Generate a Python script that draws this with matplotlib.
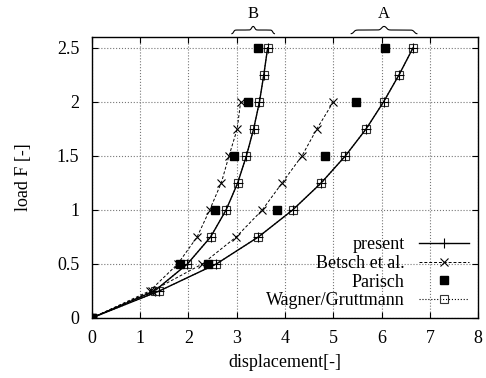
import numpy as np
import matplotlib.pyplot as plt

plt.rcParams['font.family'] = ['Liberation Serif', 'DejaVu Serif']
plt.rcParams['font.size'] = 13

# load levels
load = [0, 0.25, 0.5, 0.75, 1.0, 1.25, 1.5, 1.75, 2.0, 2.25, 2.5]
load_b = [0, 0.25, 0.5, 0.75, 1.0, 1.25, 1.5, 1.75, 2.0]
load_p = [0, 0.5, 1.0, 1.5, 2.0, 2.5]

# case B
present_B = [0, 1.30, 1.98, 2.46, 2.78, 3.02, 3.20, 3.35, 3.47, 3.56, 3.64]
betsch_B = [0, 1.20, 1.78, 2.18, 2.44, 2.68, 2.84, 3.01, 3.08]
parisch_B = [0, 1.82, 2.56, 2.95, 3.23, 3.44]
wagner_B = [0, 1.30, 1.98, 2.46, 2.78, 3.02, 3.20, 3.35, 3.47, 3.56, 3.64]

# case A
present_A = [0, 1.40, 2.58, 3.45, 4.16, 4.75, 5.25, 5.68, 6.04, 6.36, 6.65]
betsch_A = [0, 1.25, 2.29, 2.99, 3.53, 3.94, 4.35, 4.66, 5.00]
parisch_A = [0, 2.40, 3.83, 4.83, 5.47, 6.07]
wagner_A = [0, 1.40, 2.58, 3.45, 4.16, 4.75, 5.25, 5.68, 6.04, 6.36, 6.65]

fig = plt.figure(figsize=(4.86, 3.78), dpi=100)
ax = fig.add_axes([0.189, 0.159, 0.795, 0.743])

for wag, pre, bet, par in [(wagner_B, present_B, betsch_B, parisch_B),
                           (wagner_A, present_A, betsch_A, parisch_A)]:
    ax.plot(wag, load, ':', color='k', lw=0.8, marker='s', ms=6,
            mfc='none', mec='#333333', mew=0.8, label='Wagner/Gruttmann')
    ax.plot(pre, load, '-', color='k', lw=1.0, marker='+', ms=7,
            mew=0.8, label='present')
    ax.plot(bet, load_b, '--', color='k', lw=0.7, dashes=(3, 2), marker='x',
            ms=6, mew=0.8, label='Betsch et al.')
    ax.plot(par, load_p, 's', color='k', ms=5.5, label='Parisch')

ax.set_xlim(0, 8)
ax.set_ylim(0, 2.6)
ax.set_xticks(range(9))
ax.set_yticks([0, 0.5, 1, 1.5, 2, 2.5])
ax.set_yticklabels(['0', '0.5', '1', '1.5', '2', '2.5'])
ax.tick_params(direction='in', top=True, right=True, length=4, labelsize=13)
ax.tick_params(axis='x', pad=9)
ax.tick_params(axis='y', pad=9)
ax.grid(True, ls=':', color='#777777', lw=0.8)
for s in ax.spines.values():
    s.set_linewidth(1.0)

ax.set_xlabel('displacement[-]', fontsize=13, labelpad=5)
ax.set_ylabel('load F [-]', fontsize=13, labelpad=18)

h, l = ax.get_legend_handles_labels()
order = [1, 2, 3, 0]
ax.legend([h[i] for i in order], [l[i] for i in order], loc='lower right',
          bbox_to_anchor=(1.01, -0.015), frameon=False, markerfirst=False,
          fontsize=13, handlelength=2.8, labelspacing=0.1, borderpad=0.2,
          handletextpad=0.8)


def brace(x0, x1, y, hgt, label):
    t = np.linspace(0, 1, 101)
    beta = 40
    half = 1 / (1 + np.exp(-beta * (t - 0.08))) + 1 / (1 + np.exp(-beta * (t - 0.92)))
    yy = np.concatenate([half, half[-2::-1]]) / 2
    xx = np.linspace(x0, x1, len(yy))
    ax.plot(xx, y + hgt * yy, color='k', lw=0.8, clip_on=False)
    ax.text((x0 + x1) / 2, y + hgt + 0.04, label, ha='center', va='bottom',
            fontsize=12)


brace(2.9, 3.78, 2.63, 0.07, 'B')
brace(5.37, 6.73, 2.63, 0.07, 'A')

fig.savefig('out.png', dpi=100)
